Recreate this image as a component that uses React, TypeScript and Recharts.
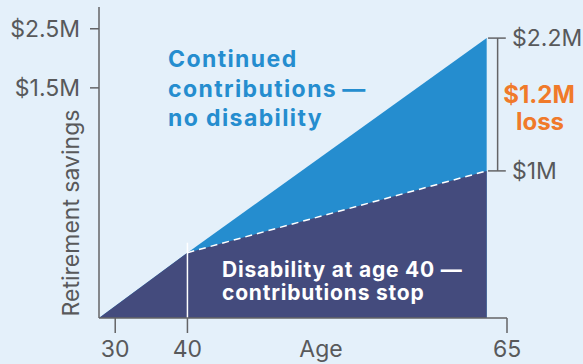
import React from 'react';
import { ComposedChart, Area, Line, XAxis, YAxis, ReferenceLine } from 'recharts';

const ages = [27, 40, 63.8];
const continuedSavings = [0, 21, 90];
const disabilitySavings = [0, 21, 47.3];

const ageTicks = [30, 40, 65];
const savingsTicks = [74, 93];
const savingsTickLabels = ['$1.5M', '$2.5M'];
const endLabels = ['$2.2M', '$1M'];
const lossLabel = ['$1.2M', 'loss'];
const disabilityAge = 40;

const BG = '#e4f0fa';
const BLUE = '#258dcf';
const NAVY = '#444b7d';
const ORANGE = '#f07a2a';
const GREY = '#58595b';
const AXIS = '#646466';
const FONT = 'Inter, Lato, sans-serif';

const last = ages.length - 1;
const data = ages.map((age, i) => ({
  age,
  continued: continuedSavings[i],
  disability: disabilitySavings[i],
  afterDisability: age >= disabilityAge ? disabilitySavings[i] : null,
}));
const rightTicks = [continuedSavings[last], disabilitySavings[last]];

// the age axis in the original is stretched towards retirement, a power scale fits it
function powScale(exponent: number, dom: number[] = [0, 1], rng: number[] = [0, 1]): any {
  let d = dom.slice();
  let r = rng.slice();
  const f = (v: number) => Math.pow(v, exponent);
  const scale: any = (v: number) => {
    const t = (f(v) - f(d[0])) / (f(d[1]) - f(d[0]));
    return r[0] + t * (r[1] - r[0]);
  };
  scale.domain = (nd?: any[]) => {
    if (nd === undefined) return d.slice();
    d = nd.map(Number);
    return scale;
  };
  scale.range = (nr?: any[]) => {
    if (nr === undefined) return r.slice();
    r = nr.map(Number);
    return scale;
  };
  scale.copy = () => powScale(exponent, d, r);
  scale.invert = (px: number) => {
    const t = (px - r[0]) / (r[1] - r[0]);
    return Math.pow(f(d[0]) + t * (f(d[1]) - f(d[0])), 1 / exponent);
  };
  scale.ticks = (count = 5) => {
    const out = [];
    const step = (d[1] - d[0]) / count;
    for (let i = 0; i <= count; i++) out.push(d[0] + i * step);
    return out;
  };
  scale.clamp = () => scale;
  scale.nice = () => scale;
  return scale;
}

const ageScale = powScale(2.4);

const tickStyle = { fill: GREY, fontSize: 23, fontFamily: FONT };
const axisStyle = { stroke: AXIS, strokeWidth: 1.5 };

const YTitle = (props: any) => {
  const vb = props.viewBox || { x: 0, y: 7, width: 99, height: 311 };
  const x = vb.x + 79;
  const y = vb.y + 206;
  return (
    <text x={x} y={y} transform={`rotate(-90, ${x}, ${y})`} textAnchor="middle" fill={GREY} fontSize={23} fontFamily={FONT}>
      Retirement savings
    </text>
  );
};

const XTitle = (props: any) => {
  const vb = props.viewBox || { x: 99, y: 318, width: 408, height: 46 };
  return (
    <text x={vb.x + 222} y={vb.y + 39} textAnchor="middle" fill={GREY} fontSize={23} fontFamily={FONT}>
      Age
    </text>
  );
};

export default function App() {
  return (
    <div style={{ position: 'absolute', left: 0, top: 0, width: 583, height: 364, background: BG }}>
      <ComposedChart width={583} height={364} data={data} margin={{ top: 7, right: 0, bottom: 0, left: 0 }}>
        <XAxis
          dataKey="age"
          type="number"
          domain={[27, 65]}
          scale={ageScale}
          ticks={ageTicks}
          interval={0}
          height={46}
          tickSize={15}
          tickMargin={8}
          axisLine={axisStyle}
          tickLine={axisStyle}
          tick={tickStyle}
          label={XTitle}
        />
        <YAxis
          yAxisId="left"
          type="number"
          domain={[0, 100]}
          allowDataOverflow
          ticks={savingsTicks}
          interval={0}
          width={99}
          tickSize={9}
          tickMargin={10}
          axisLine={axisStyle}
          tickLine={axisStyle}
          tick={tickStyle}
          tickFormatter={(v: number) => savingsTickLabels[savingsTicks.indexOf(v)] ?? ''}
          label={YTitle}
        />
        <YAxis
          yAxisId="right"
          orientation="right"
          type="number"
          domain={[0, 100]}
          allowDataOverflow
          ticks={rightTicks}
          interval={0}
          width={76}
          tickSize={0}
          tickMargin={5}
          axisLine={false}
          tickLine={false}
          tick={{ ...tickStyle, textAnchor: 'start' }}
          tickFormatter={(v: number) => endLabels[rightTicks.indexOf(v)] ?? ''}
        />
        <Area
          yAxisId="left"
          type="linear"
          dataKey="continued"
          stroke="none"
          fill={BLUE}
          fillOpacity={1}
          isAnimationActive={false}
        />
        <Area
          yAxisId="left"
          type="linear"
          dataKey="disability"
          stroke="none"
          fill={NAVY}
          fillOpacity={1}
          isAnimationActive={false}
        />
        <Line
          yAxisId="right"
          type="linear"
          dataKey="afterDisability"
          stroke="#ffffff"
          strokeWidth={1.5}
          strokeDasharray="7 5"
          dot={false}
          activeDot={false}
          isAnimationActive={false}
        />
        <ReferenceLine
          yAxisId="left"
          segment={[{ x: disabilityAge, y: 0 }, { x: disabilityAge, y: 24.2 }]}
          stroke="#ffffff"
          strokeWidth={1.5}
        />
        {/* loss bracket */}
        <ReferenceLine
          yAxisId="left"
          segment={[{ x: 64.45, y: rightTicks[1] }, { x: 64.45, y: rightTicks[0] }]}
          stroke={AXIS}
          strokeWidth={1.5}
        />
        <ReferenceLine
          yAxisId="left"
          segment={[{ x: 63.88, y: rightTicks[0] }, { x: 64.93, y: rightTicks[0] }]}
          stroke={AXIS}
          strokeWidth={1.5}
        />
        <ReferenceLine
          yAxisId="left"
          segment={[{ x: 63.88, y: rightTicks[1] }, { x: 64.93, y: rightTicks[1] }]}
          stroke={AXIS}
          strokeWidth={1.5}
        />
      </ComposedChart>
      <svg width={583} height={364} style={{ position: 'absolute', left: 0, top: 0, pointerEvents: 'none' }}>
        <g fontFamily={FONT} fontWeight={700}>
          <text fill={BLUE} fontSize={23} letterSpacing={1.4}>
            <tspan x={168} y={67}>Continued</tspan>
            <tspan x={168} y={96.5}>contributions{'\u2009'}—</tspan>
            <tspan x={168} y={126}>no disability</tspan>
          </text>
          <text fill="#ffffff" fontSize={21} letterSpacing={0.8}>
            <tspan x={222} y={277}>Disability at age 40 —</tspan>
            <tspan x={222} y={300}>contributions stop</tspan>
          </text>
          <text fill={ORANGE} fontSize={24} textAnchor="middle">
            <tspan x={539} y={103}>{lossLabel[0]}</tspan>
            <tspan x={540} y={130}>{lossLabel[1]}</tspan>
          </text>
        </g>
      </svg>
    </div>
  );
}
